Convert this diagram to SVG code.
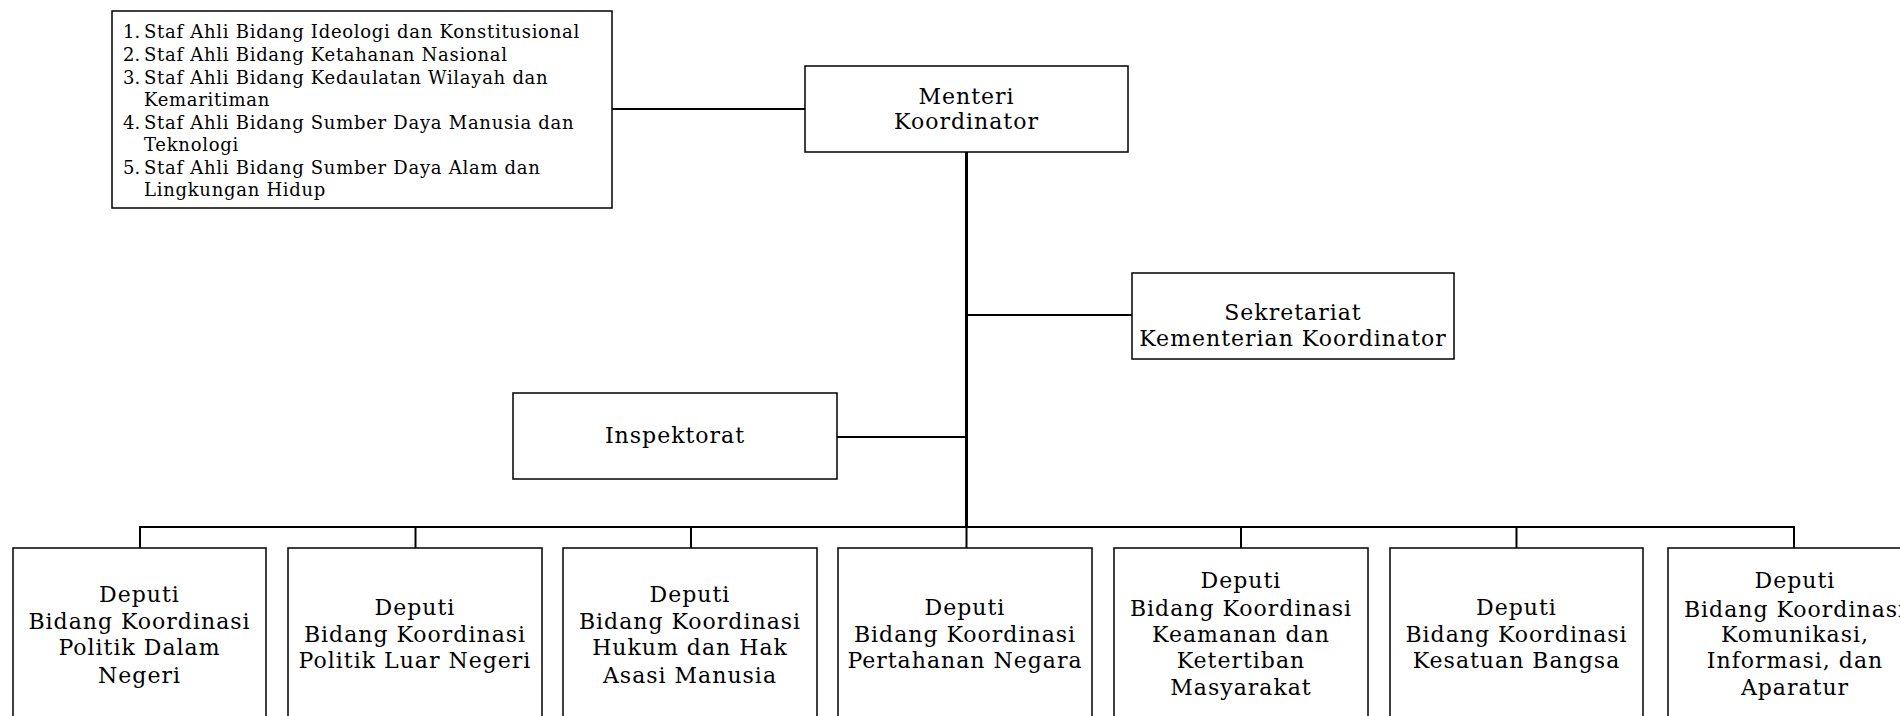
<svg xmlns="http://www.w3.org/2000/svg" width="1900" height="716" viewBox="0 0 1900 716">
<style>
.box{fill:#fff;stroke:#000;stroke-width:1.5}
.t{font-family:"DejaVu Serif","Liberation Serif",serif;font-size:22px;letter-spacing:1px;fill:#000;text-anchor:middle}
.s{font-family:"DejaVu Serif","Liberation Serif",serif;font-size:18px;letter-spacing:0.72px;fill:#000}
.n{font-family:"DejaVu Serif","Liberation Serif",serif;font-size:18px;fill:#000}
.c{stroke:#000;stroke-width:2;fill:none}
.trunk{stroke:#000;stroke-width:3;fill:none}
</style>
<rect width="1900" height="716" fill="#fff"/>
<g id="connectors">
<line class="c" x1="612" y1="109" x2="805" y2="109"/>
<line class="trunk" x1="966.5" y1="152" x2="966.5" y2="528"/>
<line class="c" x1="966" y1="315" x2="1132" y2="315"/>
<line class="c" x1="837" y1="437" x2="966" y2="437"/>
<polyline class="c" points="140,548 140,527 1794,527 1794,548"/>
<line class="c" x1="415.5" y1="527" x2="415.5" y2="548"/>
<line class="c" x1="691" y1="527" x2="691" y2="548"/>
<line class="c" x1="966.5" y1="527" x2="966.5" y2="548"/>
<line class="c" x1="1241" y1="527" x2="1241" y2="548"/>
<line class="c" x1="1516.5" y1="527" x2="1516.5" y2="548"/>
</g>
<g id="staf-ahli">
<rect class="box" x="112" y="11" width="500" height="197"/>
<text class="n" x="123" y="38">1.</text><text class="s" x="144" y="38">Staf Ahli Bidang Ideologi dan Konstitusional</text>
<text class="n" x="123" y="61">2.</text><text class="s" x="144" y="61">Staf Ahli Bidang Ketahanan Nasional</text>
<text class="n" x="123" y="84">3.</text><text class="s" x="144" y="84">Staf Ahli Bidang Kedaulatan Wilayah dan</text>
<text class="s" x="144" y="106">Kemaritiman</text>
<text class="n" x="123" y="129">4.</text><text class="s" x="144" y="129">Staf Ahli Bidang Sumber Daya Manusia dan</text>
<text class="s" x="144" y="151">Teknologi</text>
<text class="n" x="123" y="174">5.</text><text class="s" x="144" y="174">Staf Ahli Bidang Sumber Daya Alam dan</text>
<text class="s" x="144" y="196">Lingkungan Hidup</text>
</g>
<g id="menteri">
<rect class="box" x="805" y="66" width="323" height="86"/>
<text class="t" x="966.5" y="104">Menteri</text>
<text class="t" x="966.5" y="129">Koordinator</text>
</g>
<g id="sekretariat">
<rect class="box" x="1132" y="273" width="322" height="86"/>
<text class="t" x="1293" y="320">Sekretariat</text>
<text class="t" x="1293" y="346">Kementerian Koordinator</text>
</g>
<g id="inspektorat">
<rect class="box" x="513" y="393" width="324" height="86"/>
<text class="t" x="675" y="443">Inspektorat</text>
</g>
<g id="deputi-1">
<rect class="box" x="13" y="548" width="253" height="180"/>
<text class="t" x="139.5" y="602">Deputi</text>
<text class="t" x="139.5" y="629">Bidang Koordinasi</text>
<text class="t" x="139.5" y="655">Politik Dalam</text>
<text class="t" x="139.5" y="683">Negeri</text>
</g>
<g id="deputi-2">
<rect class="box" x="288" y="548" width="254" height="180"/>
<text class="t" x="415" y="615">Deputi</text>
<text class="t" x="415" y="642">Bidang Koordinasi</text>
<text class="t" x="415" y="668">Politik Luar Negeri</text>
</g>
<g id="deputi-3">
<rect class="box" x="563" y="548" width="254" height="180"/>
<text class="t" x="690" y="602">Deputi</text>
<text class="t" x="690" y="629">Bidang Koordinasi</text>
<text class="t" x="690" y="655">Hukum dan Hak</text>
<text class="t" x="690" y="683">Asasi Manusia</text>
</g>
<g id="deputi-4">
<rect class="box" x="838" y="548" width="254" height="180"/>
<text class="t" x="965" y="615">Deputi</text>
<text class="t" x="965" y="642">Bidang Koordinasi</text>
<text class="t" x="965" y="668">Pertahanan Negara</text>
</g>
<g id="deputi-5">
<rect class="box" x="1114" y="548" width="254" height="180"/>
<text class="t" x="1241" y="588">Deputi</text>
<text class="t" x="1241" y="616">Bidang Koordinasi</text>
<text class="t" x="1241" y="642">Keamanan dan</text>
<text class="t" x="1241" y="668">Ketertiban</text>
<text class="t" x="1241" y="695">Masyarakat</text>
</g>
<g id="deputi-6">
<rect class="box" x="1390" y="548" width="253" height="180"/>
<text class="t" x="1516.5" y="615">Deputi</text>
<text class="t" x="1516.5" y="642">Bidang Koordinasi</text>
<text class="t" x="1516.5" y="668">Kesatuan Bangsa</text>
</g>
<g id="deputi-7">
<rect class="box" x="1668" y="548" width="254" height="180"/>
<text class="t" x="1795" y="588">Deputi</text>
<text class="t" x="1795" y="617">Bidang Koordinasi</text>
<text class="t" x="1795" y="642">Komunikasi,</text>
<text class="t" x="1795" y="668">Informasi, dan</text>
<text class="t" x="1795" y="695">Aparatur</text>
</g>
</svg>
